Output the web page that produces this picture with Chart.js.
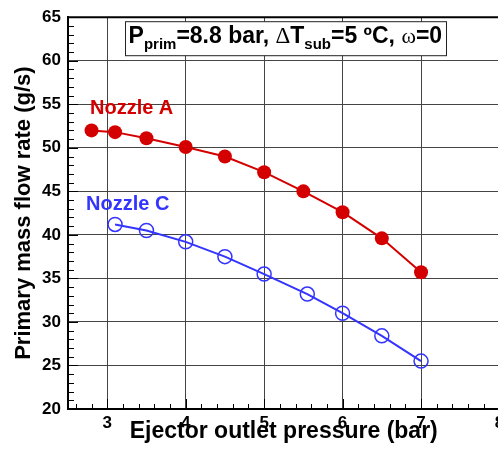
<!DOCTYPE html>
<html>
<head>
<meta charset="utf-8">
<script src="https://cdn.jsdelivr.net/npm/chart.js@4.4.1/dist/chart.umd.min.js"></script>
<style>
html, body { margin: 0; padding: 0; background: #fff; overflow: hidden; }
#wrap { width: 510px; height: 450px; }
</style>
</head>
<body>
<div id="wrap"><canvas id="flowChart" width="510" height="450"></canvas></div>
<script>
// Nozzle A: ejector outlet pressure (bar) vs primary mass flow rate (g/s)
const pressureA = [2.8, 3.1, 3.5, 4.0, 4.5, 5.0, 5.5, 6.0, 6.5, 7.0];
const flowA = [52.0, 51.8, 51.1, 50.1, 49.0, 47.2, 45.0, 42.6, 39.6, 35.7];

// Nozzle C
const pressureC = [3.1, 3.5, 4.0, 4.5, 5.0, 5.55, 6.0, 6.5, 7.0];
const flowC = [41.2, 40.5, 39.2, 37.5, 35.5, 33.2, 31.0, 28.4, 25.5];

const xTicks = [3, 4, 5, 6, 7, 8];
const yTicks = [20, 25, 30, 35, 40, 45, 50, 55, 60, 65];

const sans = '"Liberation Sans", Arial, sans-serif';
const red = '#d40000';
const blue = '#3434ff';

Chart.defaults.font.family = sans;
Chart.defaults.color = '#000';

// Title box text pieces (main text, subscripts, symbols)
const titleParts = [
    { text: 'P', font: 'bold 23px ' + sans, dy: 0 },
    { text: 'prim', font: 'bold 15px ' + sans, dy: 6 },
    { text: '=8.8 bar, ', font: 'bold 23px ' + sans, dy: 0 },
    { text: '\u0394', font: '23px "Liberation Serif", serif', dy: 0 },
    { text: 'T', font: 'bold 23px ' + sans, dy: 0 },
    { text: 'sub', font: 'bold 15px ' + sans, dy: 6 },
    { text: '=5 \u00baC, ', font: 'bold 23px ' + sans, dy: 0 },
    { text: '\u03c9', font: '22px "Liberation Serif", serif', dy: 0 },
    { text: '=0', font: 'bold 23px ' + sans, dy: 0 }
];

const decorPlugin = {
    id: 'decor',
    beforeDatasetsDraw(chart) {
        const { ctx, chartArea: a, scales: { x, y } } = chart;
        ctx.save();
        ctx.strokeStyle = '#000';
        ctx.lineWidth = 1;
        ctx.beginPath();
        // minor ticks on the left axis, every 1 g/s
        for (let v = 21; v < 65; v++) {
            const py = Math.round(y.getPixelForValue(v)) + 0.5;
            const len = v % 5 === 0 ? 10 : 6;
            ctx.moveTo(a.left, py);
            ctx.lineTo(a.left + len, py);
        }
        // minor ticks on the bottom axis, every 0.2 bar
        for (let i = 13; i < 40; i++) {
            const px = Math.round(x.getPixelForValue(i / 5)) + 0.5;
            const len = i % 5 === 0 ? 10 : 5;
            ctx.moveTo(px, a.bottom);
            ctx.lineTo(px, a.bottom - len);
        }
        ctx.stroke();
        // top frame line
        ctx.lineWidth = 2;
        ctx.beginPath();
        ctx.moveTo(a.left - 1, a.top);
        ctx.lineTo(a.right, a.top);
        ctx.stroke();
        ctx.restore();
    },
    afterDatasetsDraw(chart) {
        const { ctx, chartArea: a, scales: { x, y } } = chart;
        ctx.save();
        ctx.textBaseline = 'alphabetic';
        ctx.textAlign = 'left';

        // series labels
        ctx.font = 'bold 20px ' + sans;
        ctx.fillStyle = red;
        ctx.fillText('Nozzle A', x.getPixelForValue(2.78), y.getPixelForValue(53.9));
        ctx.fillStyle = blue;
        ctx.fillText('Nozzle C', x.getPixelForValue(2.73), y.getPixelForValue(42.8));

        // title box
        let total = 0;
        titleParts.forEach(p => { ctx.font = p.font; p.w = ctx.measureText(p.text).width; total += p.w; });
        const cx = x.getPixelForValue(5.27);
        const boxL = Math.round(cx - total / 2 - 4) + 0.5;
        const boxR = Math.round(cx + total / 2 + 4) + 0.5;
        const boxT = a.top + 4.5, boxB = a.top + 38.5;
        ctx.fillStyle = '#fff';
        ctx.fillRect(boxL, boxT, boxR - boxL, boxB - boxT);
        ctx.strokeStyle = '#222';
        ctx.lineWidth = 1;
        ctx.strokeRect(boxL, boxT, boxR - boxL, boxB - boxT);
        ctx.fillStyle = '#000';
        let tx = cx - total / 2;
        const base = a.top + 26;
        titleParts.forEach(p => {
            ctx.font = p.font;
            ctx.fillText(p.text, tx, base + p.dy);
            tx += p.w;
        });
        ctx.restore();
    }
};

const ctxFlow = document.getElementById('flowChart').getContext('2d');
const flowChart = new Chart(ctxFlow, {
    type: 'line',
    data: {
        datasets: [
            {
                label: 'Nozzle A',
                data: pressureA.map((p, i) => ({ x: p, y: flowA[i] })),
                borderColor: red,
                backgroundColor: red,
                borderWidth: 2,
                pointRadius: 7,
                pointBorderWidth: 0,
                pointBackgroundColor: red,
                tension: 0
            },
            {
                label: 'Nozzle C',
                data: pressureC.map((p, i) => ({ x: p, y: flowC[i] })),
                borderColor: blue,
                backgroundColor: 'rgba(0,0,0,0)',
                borderWidth: 2,
                pointRadius: 7,
                pointBorderWidth: 1.5,
                pointBorderColor: blue,
                pointBackgroundColor: 'rgba(0,0,0,0)',
                tension: 0
            }
        ]
    },
    options: {
        responsive: false,
        animation: false,
        layout: {
            padding: { top: 16, right: 10.5, left: 0, bottom: 0 }
        },
        scales: {
            x: {
                type: 'linear',
                min: 2.5,
                max: 8,
                afterBuildTicks: s => { s.ticks = xTicks.map(v => ({ value: v })); },
                afterFit: s => { s.height = 41; },
                ticks: {
                    font: { size: 17, weight: 'bold' },
                    padding: 4,
                    autoSkip: false,
                    maxRotation: 0
                },
                grid: { color: '#444', lineWidth: 1, drawTicks: false },
                border: { color: '#000', width: 2 },
                title: {
                    display: true,
                    text: 'Ejector outlet pressure (bar)',
                    font: { size: 23, weight: 'bold', lineHeight: 1 },
                    padding: { top: 0, bottom: 7 }
                }
            },
            y: {
                min: 20,
                max: 65,
                afterBuildTicks: s => { s.ticks = yTicks.map(v => ({ value: v })); },
                afterFit: s => { s.width = 68; },
                ticks: {
                    font: { size: 17, weight: 'bold' },
                    padding: 7
                },
                grid: { color: '#444', lineWidth: 1, drawTicks: false },
                border: { color: '#000', width: 2 },
                title: {
                    display: true,
                    text: 'Primary mass flow rate (g/s)',
                    font: { size: 22, weight: 'bold', lineHeight: 1 },
                    padding: { top: 13, bottom: 0 }
                }
            }
        },
        plugins: {
            legend: { display: false },
            tooltip: { enabled: false }
        }
    },
    plugins: [decorPlugin]
});
</script>
</body>
</html>
